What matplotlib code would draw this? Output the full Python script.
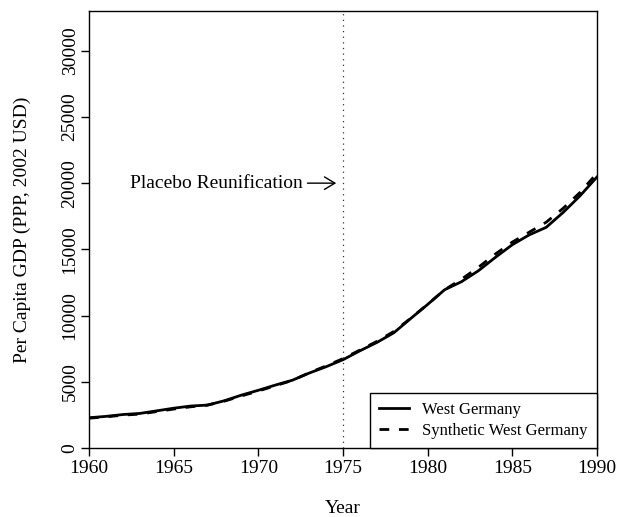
"""Placebo reunification in 1975: per capita GDP of West Germany
vs. synthetic West Germany, 1960-1990"""

import matplotlib
matplotlib.use("Agg")
import matplotlib.pyplot as plt

# data
years = list(range(1960, 1991))
west_germany = [2284, 2388, 2527, 2610, 2806, 3005, 3168, 3241, 3571, 3992,
                4359, 4750, 5114, 5656, 6136, 6668, 7341, 7970, 8700, 9779,
                10842, 11950, 12559, 13389, 14397, 15353, 16096, 16664, 17788,
                19047, 20466]
synthetic = [2250, 2350, 2480, 2560, 2750, 2940, 3110, 3240, 3540, 3930,
             4300, 4700, 5100, 5680, 6200, 6750, 7400, 8050, 8800, 9800,
             10850, 11950, 12750, 13650, 14650, 15550, 16300, 17050, 18100,
             19300, 20750]
x_ticks = [1960, 1965, 1970, 1975, 1980, 1985, 1990]
y_ticks = [0, 5000, 10000, 15000, 20000, 25000, 30000]

plt.rcParams['font.family'] = ['Liberation Serif', 'DejaVu Serif']

fig = plt.figure(figsize=(6.18, 5.17), dpi=100)
ax = fig.add_axes([89 / 618, 69 / 517, 508 / 618, 437 / 517])

ax.plot(years, west_germany, color="black", lw=2, label="West Germany")
ax.plot(years, synthetic, color="black", lw=2, dashes=(3.5, 3.5),
        label="Synthetic West Germany")

# placebo treatment year
ax.axvline(1975, color="#333333", lw=0.9, dashes=(1, 3.5))
ax.text(1967.5, 20000, "Placebo Reunification", fontsize=14,
        ha="center", va="center")
ax.annotate("", xy=(1974.6, 20000), xytext=(1972.9, 20000),
            arrowprops=dict(arrowstyle="->,head_length=0.5,head_width=0.3",
                            lw=1, color="black", mutation_scale=15,
                            shrinkA=0, shrinkB=0))

ax.set_xlim(1960, 1990)
ax.set_ylim(0, 33000)
ax.set_xticks(x_ticks)
ax.set_yticks(y_ticks)
ax.set_yticklabels([str(v) for v in y_ticks], rotation=90, va="center")
ax.tick_params(axis="both", direction="out", length=6, width=1,
               labelsize=14, pad=2.5)
ax.tick_params(axis="y", pad=1.5)
for s in ax.spines.values():
    s.set_linewidth(1)

ax.set_xlabel("Year", fontsize=14, labelpad=17)
ax.set_ylabel("Per Capita GDP (PPP, 2002 USD)", fontsize=14, labelpad=22)

leg = ax.legend(loc="lower right", bbox_to_anchor=(1, 0), borderaxespad=0,
                fontsize=12, handlelength=1.8, handletextpad=0.8,
                labelspacing=0.3, borderpad=0.55, fancybox=False,
                framealpha=1, edgecolor="black")
leg.get_frame().set_linewidth(1)

fig.savefig("out.png", dpi=100)
